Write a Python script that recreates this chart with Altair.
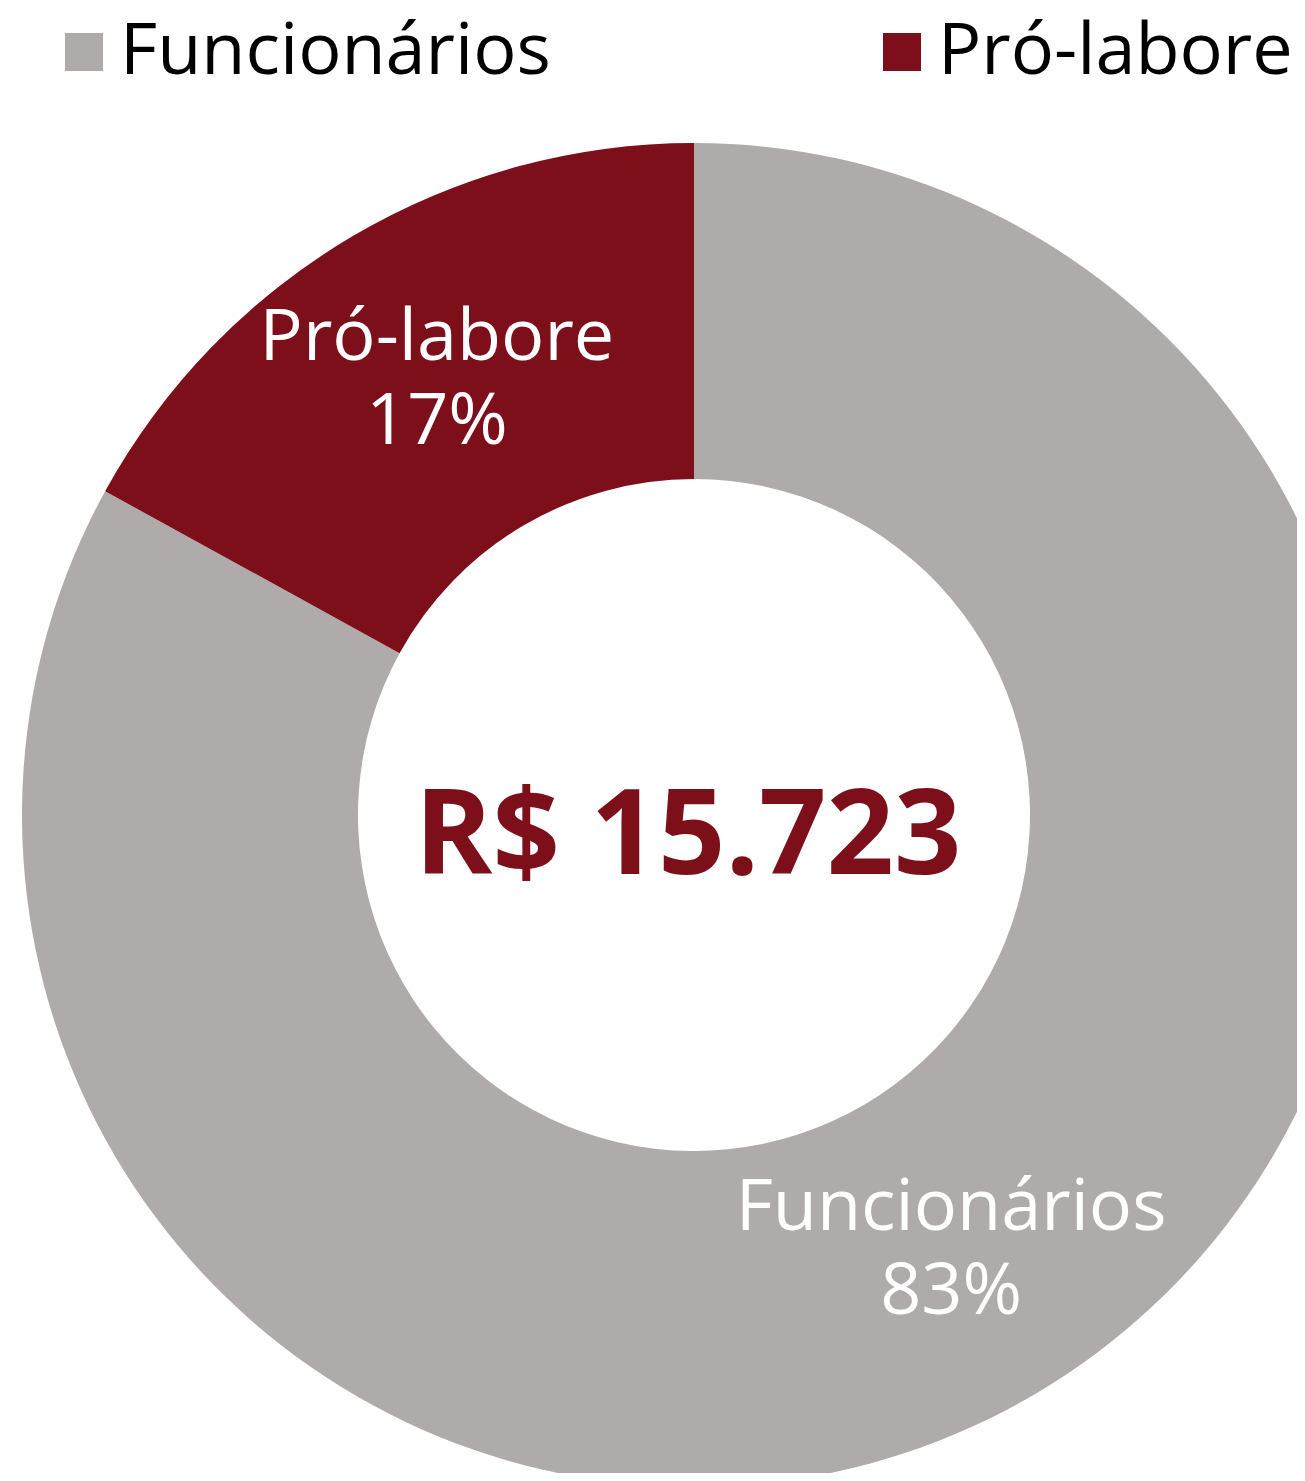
import altair as alt
import pandas as pd

categorias = ["Funcionários", "Pró-labore"]
percentuais = [83, 17]
rotulos = ["Funcionários\n83%", "Pró-labore\n17%"]
ordem = [1, 2]
cores = ["#AFABAA", "#7D0F1B"]
total_texto = ["R$ 15.723"]

df = pd.DataFrame({
    "categoria": categorias,
    "percentual": percentuais,
    "rotulo": rotulos,
    "ordem": ordem,
})
df_total = pd.DataFrame({"texto": total_texto})

FONT = "Open Sans"
CX, CY = 686, 807

base = alt.Chart(df).encode(
    theta=alt.Theta("percentual:Q", stack=True),
    order=alt.Order("ordem:Q", sort="ascending"),
    x=alt.value(CX),
    y=alt.value(CY),
)

arcs = base.mark_arc(outerRadius=672, innerRadius=336).encode(
    color=alt.Color(
        "categoria:N",
        scale=alt.Scale(domain=categorias, range=cores),
        legend=alt.Legend(
            title=None,
            orient="none",
            legendX=40,
            legendY=8,
            direction="horizontal",
            columns=2,
            columnPadding=315,
            symbolType="square",
            symbolSize=1444,
            symbolStrokeWidth=0,
            labelFontSize=72,
            labelFont=FONT,
            labelColor="#000000",
            labelOffset=0,
            labelLimit=0,
            padding=0,
        ),
    )
)

labels = base.mark_text(
    radius=505,
    dy=-42,
    font=FONT,
    fontSize=72,
    color="#FFFFFF",
    align="center",
    baseline="middle",
    lineBreak="\n",
    lineHeight=84,
).encode(
    text="rotulo:N",
    detail="categoria:N",
)

center = alt.Chart(df_total).mark_text(
    font=FONT,
    fontSize=118,
    fontWeight="bold",
    color="#7D0F1B",
    align="center",
    baseline="alphabetic",
).encode(
    text="texto:N",
    x=alt.value(680),
    y=alt.value(866),
)

chart = alt.layer(arcs, labels, center).properties(
    width=1289,
    height=1465,
    autosize=alt.AutoSizeParams(type="none"),
    padding=0,
    background="#FFFFFF",
).configure_view(stroke=None)

chart.save("out.html", embed_options={"renderer": "svg", "actions": False})
